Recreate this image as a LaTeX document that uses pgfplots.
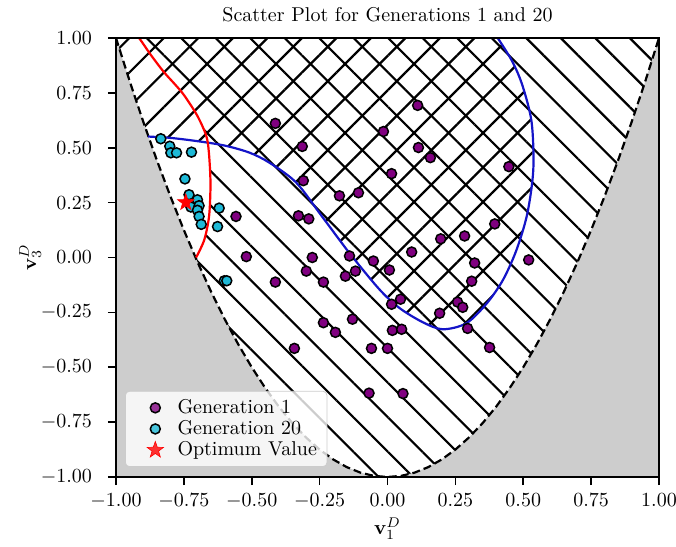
\documentclass[border=0pt]{standalone}
\usepackage{pgfplots}
\pgfplotsset{compat=1.18}
\usetikzlibrary{patterns.meta}
\definecolor{genone}{RGB}{128,0,128}
\definecolor{gentwenty}{RGB}{30,185,215}
\definecolor{bluecurve}{RGB}{20,20,200}
\definecolor{infeas}{RGB}{205,205,205}
\pgfdeclareplotmark{fivestar}{%
  \pgfpathmoveto{\pgfpointpolar{90}{\pgfplotmarksize}}%
  \pgfpathlineto{\pgfpointpolar{126}{0.4\pgfplotmarksize}}%
  \pgfpathlineto{\pgfpointpolar{162}{\pgfplotmarksize}}%
  \pgfpathlineto{\pgfpointpolar{198}{0.4\pgfplotmarksize}}%
  \pgfpathlineto{\pgfpointpolar{234}{\pgfplotmarksize}}%
  \pgfpathlineto{\pgfpointpolar{270}{0.4\pgfplotmarksize}}%
  \pgfpathlineto{\pgfpointpolar{306}{\pgfplotmarksize}}%
  \pgfpathlineto{\pgfpointpolar{342}{0.4\pgfplotmarksize}}%
  \pgfpathlineto{\pgfpointpolar{18}{\pgfplotmarksize}}%
  \pgfpathlineto{\pgfpointpolar{54}{0.4\pgfplotmarksize}}%
  \pgfpathclose
  \pgfusepathqfillstroke
}
\pgfplotsset{
  widelegend/.style={legend image code/.code={\path[draw=none,fill=none] (0cm,0cm) -- (0.74cm,0cm); \draw[mark repeat=2,mark phase=2,##1] plot coordinates {(0cm,0cm) (0.42cm,0cm) (0.74cm,0cm)};}},
}
\pgfplotstableread{
x y
-0.413 0.611
-0.314 0.506
-0.310 0.350
-0.177 0.281
-0.107 0.295
-0.015 0.574
0.111 0.693
0.114 0.501
0.158 0.455
0.015 0.382
0.447 0.414
0.395 0.153
0.284 0.098
0.196 0.085
0.089 0.025
-0.558 0.187
-0.328 0.190
-0.290 0.176
-0.520 0.004
-0.277 0.000
-0.299 -0.062
-0.413 -0.112
-0.236 -0.112
-0.155 -0.085
-0.140 0.007
-0.118 -0.062
-0.052 -0.016
-0.236 -0.297
-0.129 -0.281
-0.192 -0.341
-0.343 -0.414
-0.059 -0.414
0.000 -0.414
-0.068 -0.618
0.520 -0.011
0.321 -0.025
0.007 -0.057
0.310 -0.108
0.048 -0.190
0.015 -0.213
0.258 -0.203
0.277 -0.227
0.192 -0.254
0.018 -0.332
0.052 -0.327
0.295 -0.323
0.376 -0.410
0.057 -0.620
}\genone
\pgfplotstableread{
x y
-0.835 0.541
-0.802 0.507
-0.798 0.477
-0.777 0.477
-0.722 0.480
-0.746 0.358
-0.731 0.286
-0.700 0.263
-0.724 0.230
-0.694 0.236
-0.700 0.215
-0.694 0.187
-0.686 0.151
-0.620 0.225
-0.626 0.141
-0.601 -0.106
-0.592 -0.106
}\gentwenty
\begin{document}
\begin{tikzpicture}
\useasboundingbox (-58pt,-35pt) rectangle (280pt,238.5pt);
\begin{axis}[
  at={(0pt,0pt)}, anchor=south west,
  scale only axis, width=271.5pt, height=219.5pt,
  xmin=-1, xmax=1, ymin=-1, ymax=1,
  xtick={-1,-0.75,-0.5,-0.25,0,0.25,0.5,0.75,1},
  ytick={-1,-0.75,-0.5,-0.25,0,0.25,0.5,0.75,1},
  xticklabel style={/pgf/number format/.cd, fixed, fixed zerofill, precision=2},
  yticklabel style={/pgf/number format/.cd, fixed, fixed zerofill, precision=2},
  xticklabel shift=1pt, yticklabel shift=4.5pt,
  tick align=outside, xtick pos=bottom, ytick pos=left,
  major tick length=4pt,
  tick style={black, line width=0.8pt},
  axis line style={black, line width=0.9pt},
  axis on top,
  title={Scatter Plot for Generations 1 and 20},
  every axis title/.style={at={(0.5,1)}, anchor=south, yshift=4.3pt},
  xlabel={$\mathbf{v}_1^D$},
  ylabel={$\mathbf{v}_3^D$},
  every axis x label/.style={at={(axis description cs:0.5,-0.117)}, anchor=center},
  every axis y label/.style={at={(axis description cs:-0.158,0.5)}, anchor=center, rotate=90},
  legend style={at={(0.0166,0.0228)}, anchor=south west, fill=white, fill opacity=0.8, text opacity=1, draw=black!20, rounded corners=2pt, legend cell align=left, row sep=-2pt, inner xsep=3pt, inner ysep=2pt},
]
% backslash hatch: region right of red curve
\addplot[draw=none, forget plot, pattern={Lines[angle=-45, distance=12.2pt, line width=1.1pt, xshift=0pt]}, pattern color=black]
 coordinates {(-0.915,1.0) (-0.87,0.92) (-0.823,0.844) (-0.78,0.785) (-0.749,0.739) (-0.701,0.647) (-0.668,0.556) (-0.658,0.48) (-0.652,0.34) (-0.657,0.19) (-0.675,0.08) (-0.705,0.0) (-0.705,-1.1) (1.1,-1.1) (1.1,1.1) (-0.95,1.1)} -- cycle;
% slash hatch: inside blue curve
\addplot[draw=none, forget plot, pattern={Lines[angle=45, distance=12.2pt, line width=1.1pt, xshift=0pt]}, pattern color=black]
 coordinates {(-0.882,0.551) (-0.80,0.545) (-0.70,0.530) (-0.60,0.510) (-0.509,0.478) (-0.435,0.432) (-0.336,0.341) (-0.24,0.185) (-0.14,0.02) (-0.03,-0.145) (0.044,-0.23) (0.13,-0.295) (0.203,-0.327) (0.29,-0.30) (0.365,-0.21) (0.425,-0.103) (0.475,0.034) (0.515,0.2) (0.537,0.4) (0.531,0.615) (0.498,0.78) (0.461,0.89) (0.406,1.0) (0.35,1.1) (-1.1,1.1) (-1.1,0.551)} -- cycle;
% infeasible region
\addplot[draw=none, fill=infeas, forget plot] coordinates {
(-1.1,1.1) (-1.00,1.000) (-0.95,0.805) (-0.90,0.620) (-0.85,0.445) (-0.80,0.280) (-0.75,0.125) (-0.70,-0.020) (-0.65,-0.155) (-0.60,-0.280) (-0.55,-0.395) (-0.50,-0.500) (-0.45,-0.595) (-0.40,-0.680) (-0.35,-0.755) (-0.30,-0.820) (-0.25,-0.875) (-0.20,-0.920) (-0.15,-0.955) (-0.10,-0.980) (-0.05,-0.995) (0,-1)
(0.05,-0.995) (0.10,-0.980) (0.15,-0.955) (0.20,-0.920) (0.25,-0.875) (0.30,-0.820) (0.35,-0.755) (0.40,-0.680) (0.45,-0.595) (0.50,-0.500) (0.55,-0.395) (0.60,-0.280) (0.65,-0.155) (0.70,-0.020) (0.75,0.125) (0.80,0.280) (0.85,0.445) (0.90,0.620) (0.95,0.805) (1.00,1.000) (1.1,1.1) (1.1,-1.1) (-1.1,-1.1)} -- cycle;
% dashed boundary
\addplot[black, line width=1.1pt, dash pattern=on 4pt off 2pt, forget plot] coordinates {
(-1.00,1.000) (-0.95,0.805) (-0.90,0.620) (-0.85,0.445) (-0.80,0.280) (-0.75,0.125) (-0.70,-0.020) (-0.65,-0.155) (-0.60,-0.280) (-0.55,-0.395) (-0.50,-0.500) (-0.45,-0.595) (-0.40,-0.680) (-0.35,-0.755) (-0.30,-0.820) (-0.25,-0.875) (-0.20,-0.920) (-0.15,-0.955) (-0.10,-0.980) (-0.05,-0.995) (0,-1)
(0.05,-0.995) (0.10,-0.980) (0.15,-0.955) (0.20,-0.920) (0.25,-0.875) (0.30,-0.820) (0.35,-0.755) (0.40,-0.680) (0.45,-0.595) (0.50,-0.500) (0.55,-0.395) (0.60,-0.280) (0.65,-0.155) (0.70,-0.020) (0.75,0.125) (0.80,0.280) (0.85,0.445) (0.90,0.620) (0.95,0.805) (1.00,1.000)};
% blue curve
\addplot[bluecurve, line width=1.1pt, smooth, forget plot] coordinates {(-0.882,0.551) (-0.80,0.545) (-0.70,0.530) (-0.60,0.510) (-0.509,0.478) (-0.435,0.432) (-0.336,0.341) (-0.24,0.185) (-0.14,0.02) (-0.03,-0.145) (0.044,-0.23) (0.13,-0.295) (0.203,-0.327) (0.29,-0.30) (0.365,-0.21) (0.425,-0.103) (0.475,0.034) (0.515,0.2) (0.537,0.4) (0.531,0.615) (0.498,0.78) (0.461,0.89) (0.406,1.0) (0.35,1.1)};
% red curve
\addplot[red, line width=1.1pt, smooth, forget plot] coordinates {(-0.95,1.05) (-0.915,1.0) (-0.87,0.92) (-0.823,0.844) (-0.78,0.785) (-0.749,0.739) (-0.701,0.647) (-0.668,0.556) (-0.658,0.48) (-0.652,0.34) (-0.657,0.19) (-0.675,0.08) (-0.705,0.0)};
% scatter
\addplot[only marks, widelegend, mark=*, mark size=2.5pt, mark options={fill=genone, draw=black, line width=0.75pt}] table[x=x, y=y] {\genone};
\addlegendentry{Generation 1}
\addplot[only marks, widelegend, mark=*, mark size=2.5pt, mark options={fill=gentwenty, draw=black, line width=0.75pt}] table[x=x, y=y] {\gentwenty};
\addlegendentry{Generation 20}
\addplot[only marks, widelegend, mark=fivestar, mark size=4.3pt, mark options={fill=red, draw=red, line width=0.3pt}] coordinates {(-0.743,0.251)};
\addlegendentry{Optimum Value}
\end{axis}
\end{tikzpicture}
\end{document}
